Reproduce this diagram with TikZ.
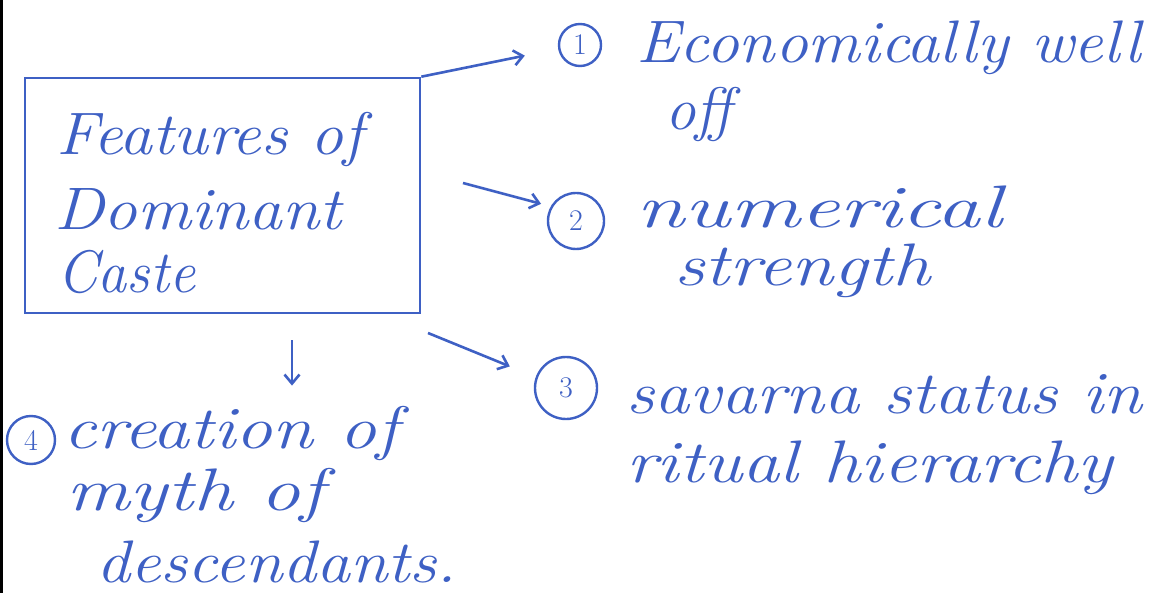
\documentclass[tikz,border=0pt]{standalone}
\usetikzlibrary{arrows.meta}
\definecolor{ink}{RGB}{62,96,196}
\newcommand{\hwl}[2]{\resizebox{#1pt}{\height}{#2}}
\tikzset{
  hw/.style={anchor=base west, inner sep=0pt, text=ink, font=\fontsize{60}{64}\selectfont\itshape},
  numc/.style={circle, draw=ink, line width=2.4pt, inner sep=0pt, minimum size=#1, text=ink, font=\fontsize{30}{30}\selectfont},
  conn/.style={draw=ink, line width=2.6pt, -{Straight Barb[length=9pt,width=15pt,line width=2.6pt]}},
  boxst/.style={draw=ink, line width=2.6pt, rectangle, inner sep=0pt}
}
\begin{document}
\begin{tikzpicture}[x=1pt,y=-1pt]
\useasboundingbox (0,0) rectangle (1155,593);
\fill[white] (0,0) rectangle (1155,593);
\draw[black, line width=3pt] (1.5,0) -- (1.5,593);
% central box
\node[boxst, minimum width=395pt, minimum height=235pt] (box) at (222.5,195.5) {};
\node[hw] (bt1) at (56,155) {\hwl{307}{Features of}};
\node[hw] (bt2) at (54,230) {\hwl{287}{Dominant}};
\node[hw] (bt3) at (57,293) {\hwl{138}{Caste}};
% item 1
\node[numc=42pt] (c1) at (580,45) {1};
\node[hw] (t1a) at (636,63) {\hwl{505}{Economically well}};
\node[hw] (t1b) at (665,130) {\hwl{67}{off}};
% item 2
\node[numc=56pt] (c2) at (576,221) {2};
\node[hw] (t2a) at (636,228) {\hwl{366}{numerical}};
\node[hw] (t2b) at (674,285) {\hwl{256}{strength}};
% item 3
\node[numc=62pt] (c3) at (566,388) {3};
\node[hw] (t3a) at (626,413) {\hwl{516}{savarna status in}};
\node[hw] (t3b) at (626,482) {\hwl{487}{ritual hierarchy}};
% item 4
\node[numc=48pt] (c4) at (31,440) {4};
\node[hw] (t4a) at (63,448) {\hwl{335}{creation of}};
\node[hw] (t4b) at (66,510) {\hwl{258}{myth of}};
\node[hw] (t4c) at (96,582) {\hwl{361}{descendants.}};
% connectors
\coordinate (a2s) at (463,183);
\coordinate (a3s) at (428,333);
\coordinate (a4s) at (292,340);
\draw[conn, shorten >=34pt] (box.north east) -- (c1.190);
\draw[conn, shorten >=10pt] (a2s) -- (c2.150);
\draw[conn, shorten >=28pt] (a3s) -- (c3.160);
\draw[conn, shorten >=20pt] (a4s) -- (a4s |- t4a.north);
\end{tikzpicture}
\end{document}
